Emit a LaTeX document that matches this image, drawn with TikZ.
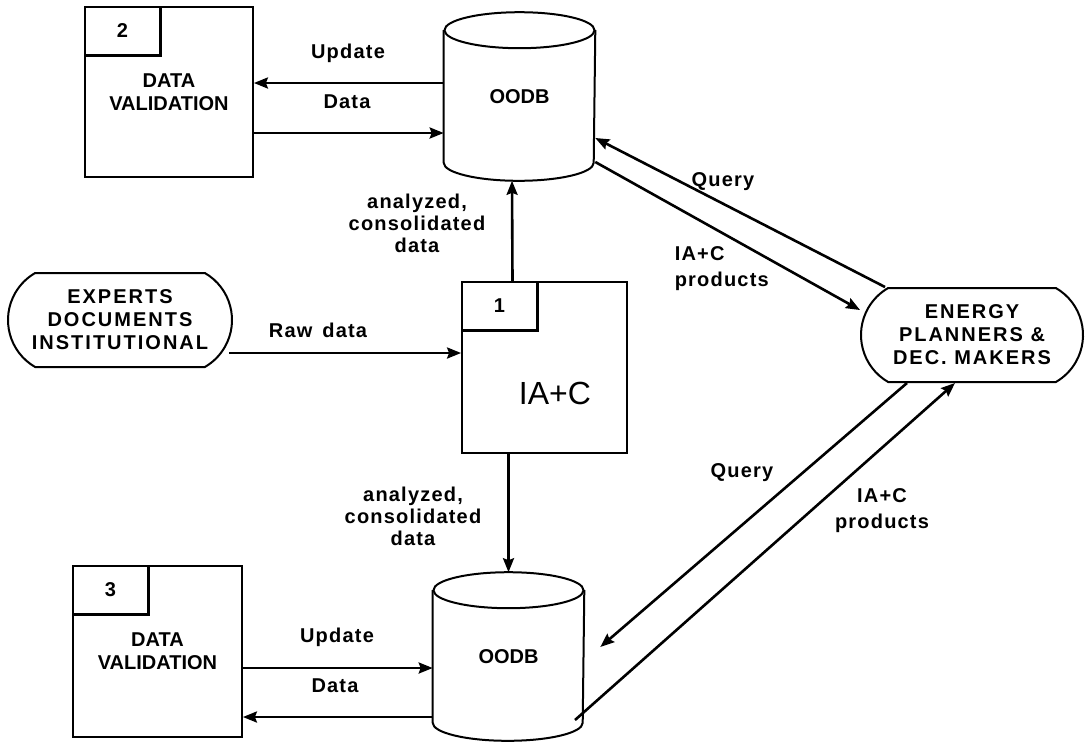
\documentclass[tikz,border=0pt]{standalone}
\usepackage{fontspec}
\setmainfont{Liberation Sans}
\newfontfamily\labelfont[LetterSpace=6]{Liberation Sans}
\newfontfamily\termfont[LetterSpace=10]{Liberation Sans}
\usetikzlibrary{shapes.misc,arrows.meta}

% drum outline drawn round a (plain) node
\newcommand{\dbdrum}[1]{%
    \draw[drum] ([yshift=-9pt]#1.north west) -- ([yshift=9pt]#1.south west)
        arc[start angle=180, end angle=360, x radius=37.5pt, y radius=9pt]
        -- ([yshift=-9pt]#1.north east);
    \draw[drum] ([yshift=-9pt]#1.north) ellipse[x radius=37.5pt, y radius=9pt];
}

\begin{document}
\begin{tikzpicture}[
    x=0.5pt,
    y=-0.5pt,
    thick,
    proc/.style={
        rectangle,
        draw=black,
        line width=0.9pt,
        inner sep=0pt,
        align=center,
        font=\bfseries\fontsize{10}{11.5}\selectfont
    },
    tabbox/.style={
        rectangle,
        inner sep=0pt,
        minimum width=37.5pt,
        minimum height=24pt,
        font=\bfseries\fontsize{10}{12}\selectfont
    },
    store/.style={
        rectangle,
        inner sep=0pt,
        minimum width=75pt,
        minimum height=83.5pt,
        font=\bfseries\fontsize{10}{12}\selectfont
    },
    drum/.style={line width=1pt},
    term/.style={
        rounded rectangle,
        rounded rectangle arc length=120,
        draw=black,
        line width=1pt,
        inner sep=0pt,
        minimum width=111pt,
        minimum height=47pt,
        align=center,
        font=\termfont\bfseries\fontsize{10}{11.5}\selectfont
    },
    lbl/.style={
        inner sep=1pt,
        font=\labelfont\bfseries\fontsize{10}{11}\selectfont
    },
    flow/.style={-{Stealth[length=7pt, width=5.5pt, inset=1pt]}, line width=1.3pt}
]
    \useasboundingbox (0,0) rectangle (1086,746);

    % Processes
    \node[proc, minimum width=84pt, minimum height=85pt] (val2) at (169,92) {DATA\\VALIDATION};
    \node[proc, minimum width=84.5pt, minimum height=85.5pt] (val3) at (157.5,651.5) {DATA\\VALIDATION};
    \node[proc, minimum width=82.5pt, minimum height=85.5pt] (iac) at (544.5,367.5) {};
    \node[font=\fontsize{16}{18}\selectfont] (iactxt) at (555,393) {IA+C};

    % Process number tabs
    \node[tabbox, anchor=north west] (tab2) at (val2.north west) {2};
    \node[tabbox, anchor=north west] (tab3) at (val3.north west) {3};
    \node[tabbox, anchor=north west] (tab1) at (iac.north west) {1};
    \foreach \t in {tab1,tab2,tab3}
        \draw[line width=1.6pt] (\t.north east) -- (\t.south east) -- (\t.south west);

    % Data stores
    \node[store] (oodbA) at (519.5,96.5) {OODB};
    \node[store] (oodbB) at (508.5,656.5) {OODB};
    \dbdrum{oodbA}
    \dbdrum{oodbB}

    % External entities
    \node[term, minimum width=112pt] (experts) at (120,320) {EXPERTS\\DOCUMENTS\\INSTITUTIONAL};
    \node[term] (planners) at (972,335) {ENERGY\\PLANNERS \&\\DEC. MAKERS};

    % Validation loops
    \draw[flow] ([yshift=6.75pt]oodbA.west) -- ([yshift=6.75pt]oodbA.west -| val2.east);
    \draw[flow] ([yshift=-18.25pt]oodbA.west -| val2.east) -- ([yshift=-18.25pt]oodbA.west);
    \draw[flow] ([yshift=-5.75pt]oodbB.west -| val3.east) -- ([yshift=-5.75pt]oodbB.west);
    \draw[flow] ([yshift=-30.25pt]oodbB.west) -- ([yshift=-30.25pt]oodbB.west -| val3.east);
    \node[lbl] (upd2) at (348,53) {Update};
    \node[lbl] (dat2) at (347,102) {Data};
    \node[lbl] (upd3) at (337,637) {Update};
    \node[lbl] (dat3) at (335,686) {Data};

    % Raw data in, results out
    \draw[flow] ([xshift=-2pt, yshift=-16.5pt]experts.east) -- ([yshift=-16.5pt]experts.east -| iac.west);
    \node[lbl] (raw) at (318,330) {Raw\hspace{0.5em}data};
    \draw[flow] ([xshift=-16pt]iac.north) -- ([xshift=-3.75pt]oodbA.south);
    \draw[flow] (iac.south -| oodbB.north) -- (oodbB.north);
    \node[lbl, align=center] (anA) at (417,223) {analyzed,\\consolidated\\data};
    \node[lbl, align=center] (anB) at (413,516) {analyzed,\\consolidated\\data};

    % Queries and products
    \draw[flow] ([xshift=-43.5pt]planners.north) -- ([yshift=-20.75pt]oodbA.east);
    \draw[flow] ([yshift=-32.75pt]oodbA.east) -- ([yshift=12.5pt]planners.west);
    \draw[flow] ([xshift=-32.5pt]planners.south) -- ([xshift=8pt, yshift=4.75pt]oodbB.east);
    \draw[flow] ([xshift=33.25pt, yshift=-31.75pt]oodbB.center) -- ([xshift=-8.5pt]planners.south);
    \node[lbl] (qryA) at (723,182) {Query};
    \node[lbl, align=left, anchor=north west, font=\labelfont\bfseries\fontsize{10}{13}\selectfont] (prodA) at (672,244) {IA+C\\products};
    \node[lbl] (qryB) at (742,473) {Query};
    \node[lbl, align=center, font=\labelfont\bfseries\fontsize{10}{13}\selectfont] (prodB) at (882,511) {IA+C\\products};
\end{tikzpicture}
\end{document}
